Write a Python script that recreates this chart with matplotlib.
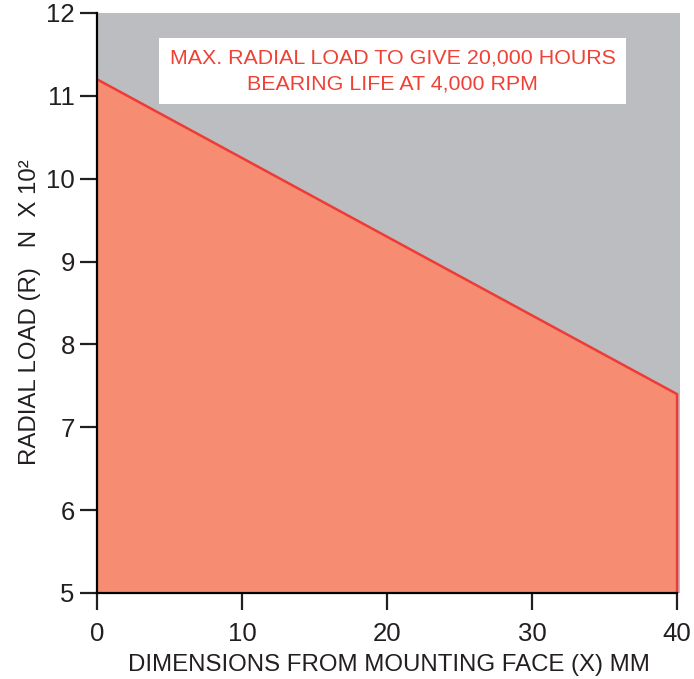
import matplotlib.pyplot as plt

plt.rcParams['font.family'] = ['Liberation Sans', 'DejaVu Sans']

# data
x_mm = [0, 40]
load = [11.2, 7.4]
x_ticks = [0, 10, 20, 30, 40]
y_ticks = [5, 6, 7, 8, 9, 10, 11, 12]

gray = '#bcbdc0'
salmon = '#f68d72'
red = '#ee3b36'
ink = '#231f20'

fig = plt.figure(figsize=(6.94, 6.79), dpi=100)
ax = fig.add_axes([97 / 694, 86 / 679, 583 / 694, 580 / 679])
ax.set_facecolor(gray)

ax.fill_between(x_mm, load, 5, color=salmon, lw=0, zorder=2)
ax.plot(x_mm + [x_mm[-1]], load + [5], color=red, lw=1.8, zorder=3)

ax.set_xlim(0, 40.2)
ax.set_ylim(5, 12)
ax.set_xticks(x_ticks)
ax.set_yticks(y_ticks)

for s in ['top', 'right']:
    ax.spines[s].set_visible(False)
for s in ['left', 'bottom']:
    ax.spines[s].set_linewidth(1.6)
    ax.spines[s].set_zorder(4)
ax.spines['bottom'].set_bounds(0, 40)
ax.tick_params(axis='both', length=12, width=1.6, labelsize=18.5, color=ink, labelcolor=ink)
ax.tick_params(axis='x', pad=9)
ax.tick_params(axis='y', pad=4)

ax.set_xlabel('DIMENSIONS FROM MOUNTING FACE (X) MM', fontsize=17.3, color=ink, labelpad=6)
ax.set_ylabel('RADIAL LOAD (R)   N  X 10²', fontsize=17.3, color=ink, labelpad=3.5)
ax.yaxis.label.set_y(0.485)

ax.text(0.507, 0.9, 'MAX. RADIAL LOAD TO GIVE 20,000 HOURS\nBEARING LIFE AT 4,000 RPM',
        transform=ax.transAxes, ha='center', va='center', fontsize=15.4, color='#ef4136',
        linespacing=1.47, zorder=5,
        bbox=dict(boxstyle='square,pad=0.5', fc='white', ec='none'))

fig.savefig('out.png', dpi=100)
